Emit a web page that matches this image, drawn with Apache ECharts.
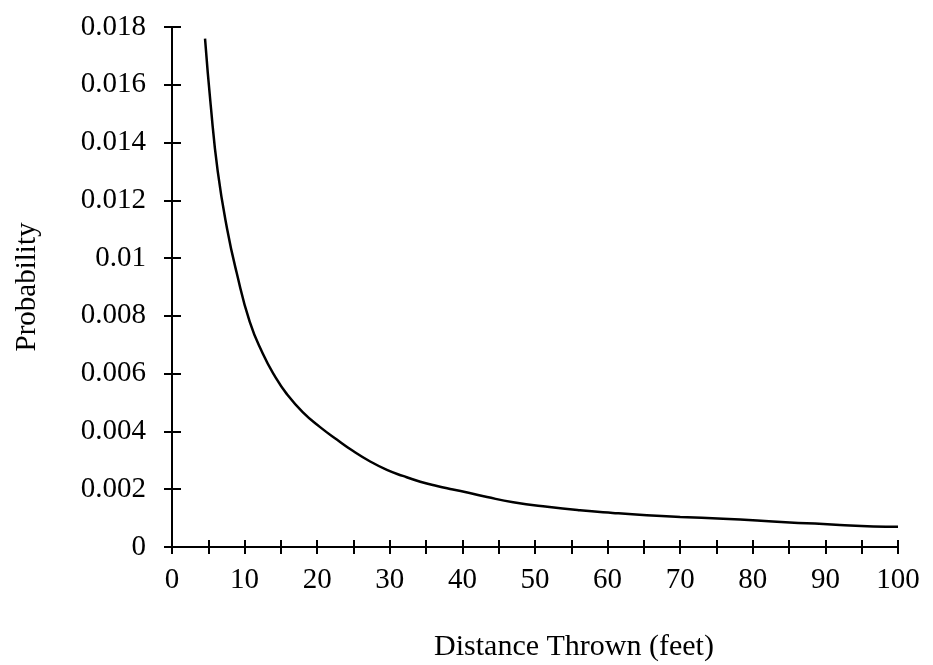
<!DOCTYPE html>
<html>
<head>
<meta charset="utf-8">
<script src="https://cdn.jsdelivr.net/npm/echarts@6/dist/echarts.min.js"></script>
<style>
html,body{margin:0;padding:0;background:#fff;}
#chart{width:933px;height:665px;}
</style>
</head>
<body>
<div id="chart"></div>
<script>
var distances = [4.55, 5.33, 6.3, 7.6, 8.9, 10.7, 12.5, 14.2, 15.8, 18.0, 20.4, 22.7, 24.9, 27.3, 29.6, 31.8, 34.2, 36.5, 38.7, 41.0, 43.4, 47.0, 51.7, 56.2, 60.7, 65.4, 70.0, 75.9, 80.6, 85.1, 89.7, 92.0, 96.6, 100];
var probabilities = [0.0176, 0.0153, 0.0130, 0.0110, 0.0095, 0.0078, 0.0067, 0.0059, 0.0053, 0.00467, 0.00415, 0.00372, 0.00333, 0.00296, 0.00267, 0.00246, 0.00226, 0.00211, 0.00199, 0.00187, 0.00173, 0.00155, 0.00139, 0.00127, 0.00118, 0.0011, 0.00104, 0.00098, 0.00092, 0.00085, 0.0008, 0.00076, 0.00071, 0.0007];
var xTitle = 'Distance Thrown (feet)';
var yTitle = 'Probability';

var points = distances.map(function(d, i){ return [d, probabilities[i]]; });
var font = '"Liberation Serif", "Times New Roman", serif';

var chart = echarts.init(document.getElementById('chart'), null, {renderer:'canvas'});
var xBase = {
  type:'value', min:0, max:100, interval:5,
  splitLine:{show:false},
  axisLine:{show:true, onZero:false, lineStyle:{color:'#000', width:2}},
  axisTick:{show:true, length:7, lineStyle:{color:'#000', width:2}}
};
var yBase = {
  type:'value', min:0, max:0.018, interval:0.002,
  splitLine:{show:false},
  axisLine:{show:true, onZero:false, lineStyle:{color:'#000', width:2}},
  axisTick:{show:true, length:7, lineStyle:{color:'#000', width:2}}
};
chart.setOption({
  animation:false,
  backgroundColor:'#fff',
  grid:{left:172, right:35, top:27, bottom:118, containLabel:false, outerBoundsMode:'none'},
  xAxis:[
    Object.assign({}, xBase, {
      position:'bottom',
      axisTick:{show:true, inside:false, length:7, lineStyle:{color:'#000', width:2}},
      axisLabel:{show:true, margin:19, color:'#000', fontFamily:font, fontSize:29,
        formatter:function(v){ return v % 10 === 0 ? String(v) : ''; }},
      name:xTitle, nameLocation:'middle', nameGap:85,
      nameTextStyle:{color:'#000', fontFamily:font, fontSize:30, padding:[0,0,0,78]}
    }),
    Object.assign({}, xBase, {
      position:'bottom',
      axisTick:{show:true, inside:true, length:7, lineStyle:{color:'#000', width:2}},
      axisLabel:{show:false}
    })
  ],
  yAxis:[
    Object.assign({}, yBase, {
      position:'left',
      axisTick:{show:true, inside:false, length:8, lineStyle:{color:'#000', width:2}},
      axisLabel:{show:true, margin:26, color:'#000', fontFamily:font, fontSize:29,
        formatter:function(v){ return String(parseFloat(v.toFixed(3))); }},
      name:yTitle, nameLocation:'middle', nameGap:130, nameRotate:90,
      nameTextStyle:{color:'#000', fontFamily:font, fontSize:29}
    }),
    Object.assign({}, yBase, {
      position:'left',
      axisTick:{show:true, inside:true, length:9, lineStyle:{color:'#000', width:2}},
      axisLabel:{show:false}
    })
  ],
  series:[{
    type:'line',
    xAxisIndex:0, yAxisIndex:0,
    data:points,
    smooth:0.5,
    showSymbol:false,
    lineStyle:{color:'#000', width:2.5}
  }]
});
</script>
</body>
</html>
